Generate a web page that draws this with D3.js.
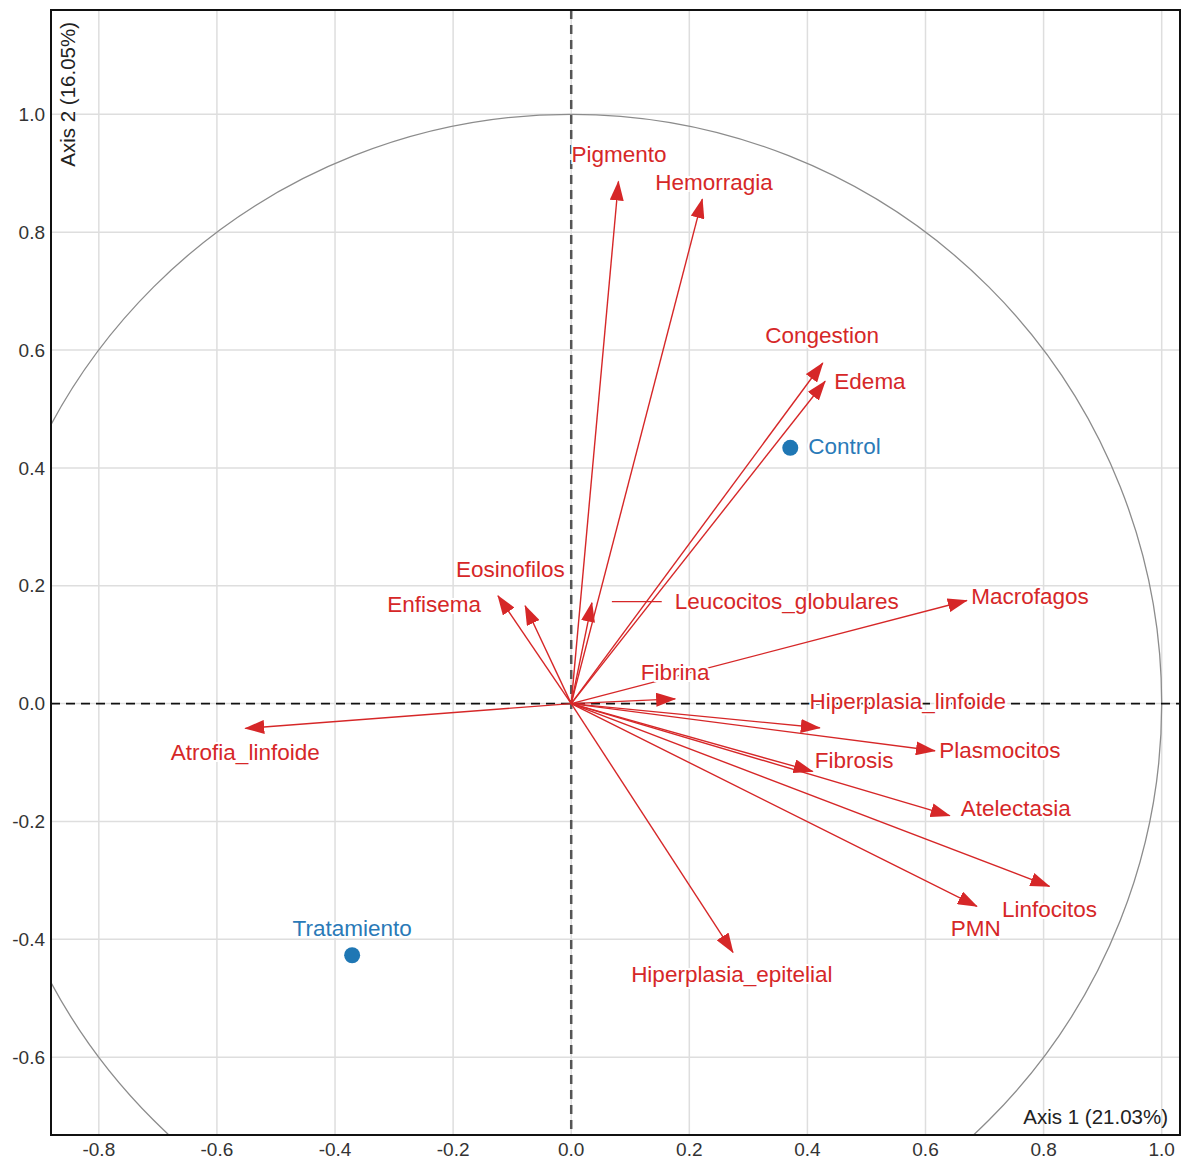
<!DOCTYPE html>
<html>
<head>
<meta charset="utf-8">
<script src="https://cdn.jsdelivr.net/npm/d3@7"></script>
<style>
  body { margin: 0; background: #fff; }
  text { font-family: "Liberation Sans", Arial, sans-serif; }
</style>
</head>
<body>
<div id="chart"></div>
<script>
// variable arrows (coordinates on Axis 1 / Axis 2)
var varNames = ["Pigmento", "Hemorragia", "Congestion", "Edema", "Eosinofilos", "Enfisema",
  "Leucocitos_globulares", "Macrofagos", "Fibrina", "Hiperplasia_linfoide", "Atrofia_linfoide",
  "Plasmocitos", "Fibrosis", "Atelectasia", "Linfocitos", "PMN", "Hiperplasia_epitelial"];
var varX = [0.080, 0.222, 0.426, 0.430, -0.078, -0.124, 0.035, 0.670, 0.176, 0.421, -0.552,
  0.616, 0.409, 0.641, 0.810, 0.687, 0.274];
var varY = [0.886, 0.856, 0.578, 0.547, 0.166, 0.183, 0.171, 0.175, 0.008, -0.041, -0.042,
  -0.080, -0.115, -0.190, -0.310, -0.344, -0.422];
// repelled label positions (label centre, same units)
var labX = [0.081, 0.242, 0.425, 0.506, -0.103, -0.232, 0.365, 0.777, 0.176, 0.570, -0.552,
  0.726, 0.479, 0.753, 0.810, 0.685, 0.272];
var labY = [0.931, 0.885, 0.625, 0.547, 0.227, 0.169, 0.173, 0.181, 0.053, 0.003, -0.083,
  -0.080, -0.097, -0.178, -0.349, -0.381, -0.459];

// supplementary groups
var grpNames = ["Control", "Tratamiento"];
var grpX = [0.371, -0.371];
var grpY = [0.434, -0.427];
var grpLabX = [0.463, -0.371];
var grpLabY = [0.437, -0.381];

var xTicks = [-0.8, -0.6, -0.4, -0.2, 0.0, 0.2, 0.4, 0.6, 0.8, 1.0];
var yTicks = [-0.6, -0.4, -0.2, 0.0, 0.2, 0.4, 0.6, 0.8, 1.0];
var xTitle = "Axis 1 (21.03%)";
var yTitle = "Axis 2 (16.05%)";

var width = 1181, height = 1161;
var margin = {top: 10, right: 1, bottom: 26, left: 51};
var innerW = width - margin.left - margin.right,
    innerH = height - margin.top - margin.bottom;

var red = "#d62728", blue = "#1f77b4";

var x = d3.scaleLinear().domain([-0.881, 1.031]).range([0, innerW]);
var y = d3.scaleLinear().domain([-0.732, 1.177]).range([innerH, 0]);

var svg = d3.select("#chart").append("svg")
    .attr("width", width)
    .attr("height", height);

var defs = svg.append("defs");
defs.append("clipPath").attr("id", "clip")
  .append("rect").attr("width", innerW).attr("height", innerH);
defs.append("marker")
    .attr("id", "arrow")
    .attr("markerUnits", "userSpaceOnUse")
    .attr("viewBox", "0 0 20 14")
    .attr("refX", 19).attr("refY", 7)
    .attr("markerWidth", 20).attr("markerHeight", 14)
    .attr("orient", "auto")
  .append("path")
    .attr("d", "M0,0 L20,7 L0,14 Z")
    .attr("fill", red);

var g = svg.append("g").attr("transform", "translate(" + margin.left + "," + margin.top + ")");

// grid
g.append("g").selectAll("line").data(xTicks).enter().append("line")
    .attr("x1", d => x(d)).attr("x2", d => x(d))
    .attr("y1", 0).attr("y2", innerH)
    .attr("stroke", "#dedede").attr("stroke-width", 1.5);
g.append("g").selectAll("line").data(yTicks).enter().append("line")
    .attr("y1", d => y(d)).attr("y2", d => y(d))
    .attr("x1", 0).attr("x2", innerW)
    .attr("stroke", "#dedede").attr("stroke-width", 1.5);

var plot = g.append("g").attr("clip-path", "url(#clip)");

// correlation circle
plot.append("ellipse")
    .attr("cx", x(0)).attr("cy", y(0))
    .attr("rx", x(1) - x(0)).attr("ry", y(0) - y(1))
    .attr("fill", "none").attr("stroke", "#8c8c8c").attr("stroke-width", 1.3);

// zero lines
plot.append("line")
    .attr("x1", x(0)).attr("x2", x(0)).attr("y1", 0).attr("y2", innerH)
    .attr("stroke", "#555").attr("stroke-width", 2.5).attr("stroke-dasharray", "9,6");
plot.append("line")
    .attr("y1", y(0)).attr("y2", y(0)).attr("x1", 0).attr("x2", innerW)
    .attr("stroke", "#111").attr("stroke-width", 1.8).attr("stroke-dasharray", "9,6");

// arrows
var vars = varNames.map((n, i) => ({name: n, x: varX[i], y: varY[i], lx: labX[i], ly: labY[i]}));
plot.append("g").selectAll("line").data(vars).enter().append("line")
    .attr("x1", x(0)).attr("y1", y(0))
    .attr("x2", d => x(d.x)).attr("y2", d => y(d.y))
    .attr("stroke", red).attr("stroke-width", 1.4)
    .attr("marker-end", "url(#arrow)");

// leader segment for Leucocitos_globulares
var leu = vars[6];
plot.append("line")
    .attr("x1", x(leu.x) + 20).attr("x2", x(leu.lx) - 125)
    .attr("y1", y(leu.ly)).attr("y2", y(leu.ly))
    .attr("stroke", red).attr("stroke-width", 1.4);

// variable labels
plot.append("g").selectAll("text").data(vars).enter().append("text")
    .attr("x", d => x(d.lx)).attr("y", d => y(d.ly))
    .attr("text-anchor", "middle").attr("dominant-baseline", "central")
    .attr("font-size", 22.5)
    .attr("fill", red)
    .attr("stroke", "#fff").attr("stroke-width", 4).attr("paint-order", "stroke")
    .text(d => d.name);

// group points
var grps = grpNames.map((n, i) => ({name: n, x: grpX[i], y: grpY[i], lx: grpLabX[i], ly: grpLabY[i]}));
plot.append("g").selectAll("circle").data(grps).enter().append("circle")
    .attr("cx", d => x(d.x)).attr("cy", d => y(d.y)).attr("r", 8)
    .attr("fill", blue);
plot.append("g").selectAll("text").data(grps).enter().append("text")
    .attr("x", d => x(d.lx)).attr("y", d => y(d.ly))
    .attr("text-anchor", "middle").attr("dominant-baseline", "central")
    .attr("font-size", 22.5)
    .attr("fill", "#2a7ab8")
    .attr("stroke", "#fff").attr("stroke-width", 4).attr("paint-order", "stroke")
    .text(d => d.name);

// axis titles inside the panel
g.append("text")
    .attr("x", innerW - 12).attr("y", innerH - 11)
    .attr("text-anchor", "end").attr("font-size", 20.5).attr("fill", "#222")
    .text(xTitle);
g.append("text")
    .attr("transform", "translate(" + 24 + ",12) rotate(-90)")
    .attr("text-anchor", "end").attr("font-size", 20.5).attr("fill", "#222")
    .text(yTitle);

// frame
g.append("rect")
    .attr("width", innerW).attr("height", innerH)
    .attr("fill", "none").attr("stroke", "#111").attr("stroke-width", 2);

// tick labels (plain hyphen for negatives, as in the original)
var fmt = v => d3.format(".1f")(v).replace("\u2212", "-");
g.append("g").attr("transform", "translate(0," + innerH + ")")
  .selectAll("text").data(xTicks).enter().append("text")
    .attr("x", d => x(d)).attr("y", 21)
    .attr("text-anchor", "middle").attr("font-size", 19).attr("fill", "#333")
    .text(d => fmt(d));
g.append("g")
  .selectAll("text").data(yTicks).enter().append("text")
    .attr("x", -6).attr("y", d => y(d)).attr("dy", "0.35em")
    .attr("text-anchor", "end").attr("font-size", 19).attr("fill", "#333")
    .text(d => fmt(d));
</script>
</body>
</html>
